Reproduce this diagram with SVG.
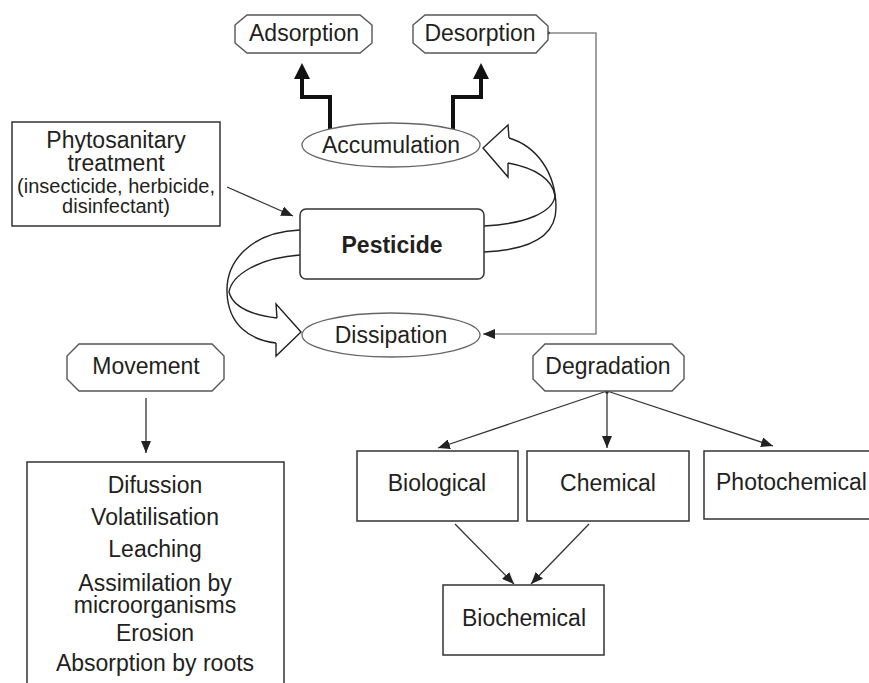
<svg xmlns="http://www.w3.org/2000/svg" width="869" height="683" viewBox="0 0 869 683">
<style>
text{font-family:"Liberation Sans",Arial,Helvetica,sans-serif;font-size:23px;fill:#231f20;text-anchor:middle}
.sub{font-size:20px}
.b{font-weight:bold}
.oct{fill:#fff;stroke:#555;stroke-width:1.4}
.box{fill:#fff;stroke:#333;stroke-width:1.5}
.ell{fill:#fff;stroke:#666;stroke-width:1.3}
.thin{fill:none;stroke:#333;stroke-width:1.3}
.thick{fill:none;stroke:#111;stroke-width:4}
.rib{fill:none;stroke:#222;stroke-width:1.4}
.head{fill:#fff;stroke:#222;stroke-width:1.4;stroke-linejoin:miter}
.gray{fill:none;stroke:#888;stroke-width:1.6}
</style>
<defs>
<marker id="ah" markerUnits="userSpaceOnUse" viewBox="0 -5 12 10" refX="12" refY="0" markerWidth="12" markerHeight="10" orient="auto">
<path d="M0,-5 L12,0 L0,5 Z" fill="#222"/>
</marker>
<marker id="ahk" markerUnits="userSpaceOnUse" viewBox="0 -8 16 16" refX="0" refY="0" markerWidth="16" markerHeight="16" orient="auto">
<path d="M0,-8 L16,0 L0,8 Z" fill="#111"/>
</marker>
</defs>

<g id="connectors">
<path class="thick" d="M330,129 V97 H302 V79" marker-end="url(#ahk)"/>
<path class="thick" d="M453,129 V97 H481 V79" marker-end="url(#ahk)"/>
<line class="thin" x1="227" y1="187" x2="293" y2="216" marker-end="url(#ah)"/>
<path class="gray" d="M548,33 H596 V334 H483" marker-end="url(#ah)"/>
<circle cx="548" cy="33" r="1.8" fill="#222"/>
<line class="thin" x1="146" y1="398" x2="146" y2="453" marker-end="url(#ah)"/>
<line class="thin" x1="607" y1="391" x2="438" y2="448" marker-end="url(#ah)"/>
<line class="thin" x1="607" y1="391" x2="607" y2="448" marker-end="url(#ah)"/>
<line class="thin" x1="607" y1="391" x2="773" y2="446" marker-end="url(#ah)"/>
<circle cx="607" cy="392" r="1.8" fill="#222"/>
<line class="thin" x1="455" y1="524" x2="514" y2="584" marker-end="url(#ah)"/>
<line class="thin" x1="589" y1="524" x2="531" y2="584" marker-end="url(#ah)"/>
<g id="ribbon-right">
<path class="rib" d="M484,252 C530,250 556,236 556,208 C556,172 536,146 509,138"/>
<path class="rib" d="M484,226 C526,224 553,212 555,196 C553,180 536,168 508,163"/>
<path class="head" d="M509,138 L508,125 L483,148 L508,177 L508,163"/>
</g>
<g id="ribbon-left">
<path class="rib" d="M300,230 C250,232 226,262 227,292 C228,325 250,340 276,343"/>
<path class="rib" d="M300,255 C258,258 232,275 229,292 C233,307 252,315 277,318"/>
<path class="head" d="M277,318 L276,304 L301,332 L276,356 L276,343"/>
</g>
</g>

<g id="adsorption">
<path class="oct" d="M247,15 H360 L372,25 V43 L360,53 H247 L235,43 V25 Z"/>
<text x="304" y="41">Adsorption</text>
</g>
<g id="desorption">
<path class="oct" d="M425,15 H536 L548,26 V40 L536,53 H425 L413,43 V25 Z"/>
<text x="480" y="41">Desorption</text>
</g>
<g id="accumulation">
<ellipse class="ell" cx="391" cy="145" rx="89" ry="22"/>
<text x="391" y="153">Accumulation</text>
</g>
<g id="phytosanitary">
<rect class="box" x="12" y="122" width="208" height="104"/>
<text x="116" y="148">Phytosanitary</text>
<text x="116" y="171">treatment</text>
<text class="sub" x="116" y="193">(insecticide, herbicide,</text>
<text class="sub" x="116" y="213">disinfectant)</text>
</g>
<g id="pesticide">
<rect class="box" x="300" y="209" width="184" height="70" rx="6"/>
<text class="b" x="392" y="253">Pesticide</text>
</g>
<g id="dissipation">
<ellipse class="ell" cx="391" cy="335" rx="89" ry="22"/>
<text x="391" y="343">Dissipation</text>
</g>
<g id="movement">
<path class="oct" d="M79,344 H212 L224,356 V379 L212,391 H79 L67,379 V356 Z"/>
<text x="146" y="374">Movement</text>
</g>
<g id="degradation">
<path class="oct" d="M545,344 H672 L684,356 V379 L672,391 H545 L533,379 V356 Z"/>
<text x="608" y="374">Degradation</text>
</g>
<g id="movement-list">
<rect class="box" x="27" y="462" width="257" height="240"/>
<text x="155" y="493">Difussion</text>
<text x="155" y="525">Volatilisation</text>
<text x="155" y="557">Leaching</text>
<text x="155" y="591">Assimilation by</text>
<text x="155" y="613">microorganisms</text>
<text x="155" y="641">Erosion</text>
<text x="155" y="671">Absorption by roots</text>
</g>
<g id="biological">
<rect class="box" x="357" y="451" width="161" height="70"/>
<text x="437" y="491">Biological</text>
</g>
<g id="chemical">
<rect class="box" x="527" y="451" width="162" height="70"/>
<text x="608" y="491">Chemical</text>
</g>
<g id="photochemical">
<rect class="box" x="704" y="451" width="175" height="68"/>
<text x="716" y="490" style="text-anchor:start">Photochemical</text>
</g>
<g id="biochemical">
<rect class="box" x="443" y="585" width="161" height="70"/>
<text x="524" y="626">Biochemical</text>
</g>
</svg>
